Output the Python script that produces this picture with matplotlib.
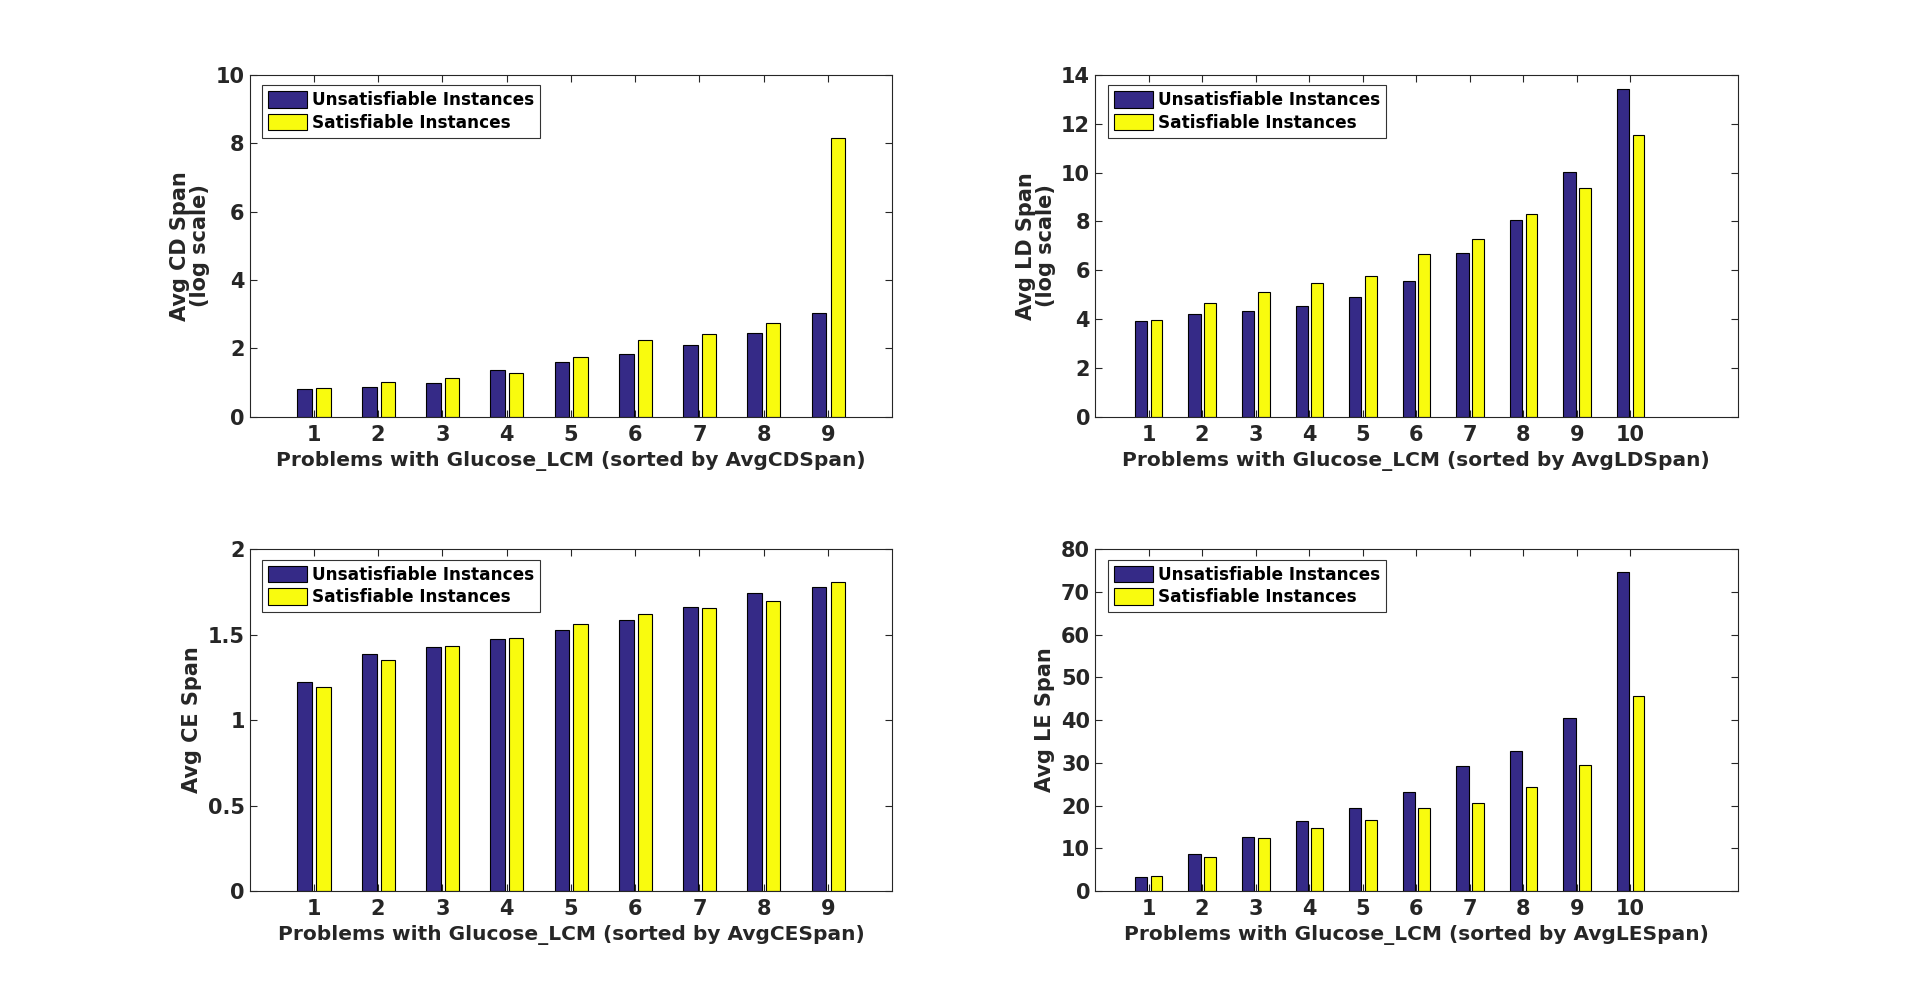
import matplotlib
matplotlib.use('Agg')
import matplotlib.pyplot as plt
import numpy as np

plt.rcParams['font.family'] = 'DejaVu Sans'
plt.rcParams['font.weight'] = 'bold'
plt.rcParams['font.size'] = 14

BLUE = '#352a87'
YELLOW = '#f9fb0e'

# Avg CD Span (log scale), 9 problems
cd_unsat = [0.82, 0.87, 0.99, 1.37, 1.60, 1.84, 2.10, 2.45, 3.03]
cd_sat = [0.85, 1.02, 1.14, 1.28, 1.75, 2.24, 2.42, 2.74, 8.16]

# Avg LD Span (log scale), 10 problems
ld_unsat = [3.90, 4.20, 4.33, 4.53, 4.90, 5.55, 6.69, 8.07, 10.03, 13.43]
ld_sat = [3.96, 4.64, 5.10, 5.47, 5.78, 6.65, 7.29, 8.31, 9.39, 11.55]

# Avg CE Span, 9 problems
ce_unsat = [1.224, 1.388, 1.429, 1.475, 1.528, 1.586, 1.662, 1.747, 1.778]
ce_sat = [1.195, 1.353, 1.434, 1.481, 1.563, 1.621, 1.656, 1.697, 1.808]

# Avg LE Span, 10 problems
le_unsat = [3.27, 8.63, 12.6, 16.3, 19.4, 23.1, 29.2, 32.7, 40.4, 74.7]
le_sat = [3.5, 7.93, 12.36, 14.7, 16.56, 19.4, 20.5, 24.3, 29.6, 45.7]

panels = [
    (cd_unsat, cd_sat, 'Avg CD Span\n(log scale)', 'AvgCDSpan', 10, 10, np.arange(0, 11, 2)),
    (ld_unsat, ld_sat, 'Avg LD Span\n(log scale)', 'AvgLDSpan', 12, 14, np.arange(0, 15, 2)),
    (ce_unsat, ce_sat, 'Avg CE Span', 'AvgCESpan', 10, 2, np.arange(0, 2.01, 0.5)),
    (le_unsat, le_sat, 'Avg LE Span', 'AvgLESpan', 12, 80, np.arange(0, 81, 10)),
]

positions = [
    [0.13, 0.5838, 0.3347, 0.3412],
    [0.5703, 0.5838, 0.3347, 0.3412],
    [0.13, 0.11, 0.3347, 0.3412],
    [0.5703, 0.11, 0.3347, 0.3412],
]

fig = plt.figure(figsize=(19.2, 10.01), dpi=100)

for pos, (unsat, sat, ylab, key, xmax, ymax, yticks) in zip(positions, panels):
    ax = fig.add_axes(pos)
    x = np.arange(1, len(unsat) + 1)
    ax.bar(x - 0.14, unsat, width=0.23, color=BLUE, edgecolor='black', linewidth=0.8,
           label='Unsatisfiable Instances')
    ax.bar(x + 0.15, sat, width=0.22, color=YELLOW, edgecolor='black', linewidth=0.8,
           label='Satisfiable Instances')
    ax.set_xlim(0, xmax)
    ax.set_ylim(0, ymax)
    ax.set_xticks(x)
    ax.set_yticks(yticks)
    ax.set_yticklabels([f'{t:g}' for t in yticks])
    ax.tick_params(direction='in', top=True, right=True, length=5, width=0.8,
                   labelsize=15, colors='#262626', labelcolor='#262626')
    ax.tick_params(axis='x', pad=6)
    for s in ax.spines.values():
        s.set_linewidth(0.8)
        s.set_color('#262626')
    ax.set_xlabel(f'Problems with Glucose_LCM (sorted by {key})', fontsize=14.5,
                  fontweight='bold', color='#262626', labelpad=4)
    ax.set_ylabel(ylab, fontsize=15, fontweight='bold', color='#262626', linespacing=1.0)
    leg = ax.legend(loc='upper left', bbox_to_anchor=(0.02, 0.97), fontsize=12.2,
                    frameon=True, fancybox=False, edgecolor='black', handlelength=2.3,
                    handleheight=1.15, borderpad=0.35, labelspacing=0.25, handletextpad=0.3,
                    borderaxespad=0.0)
    leg.get_frame().set_linewidth(0.8)

fig.savefig('out.png', dpi=100)
